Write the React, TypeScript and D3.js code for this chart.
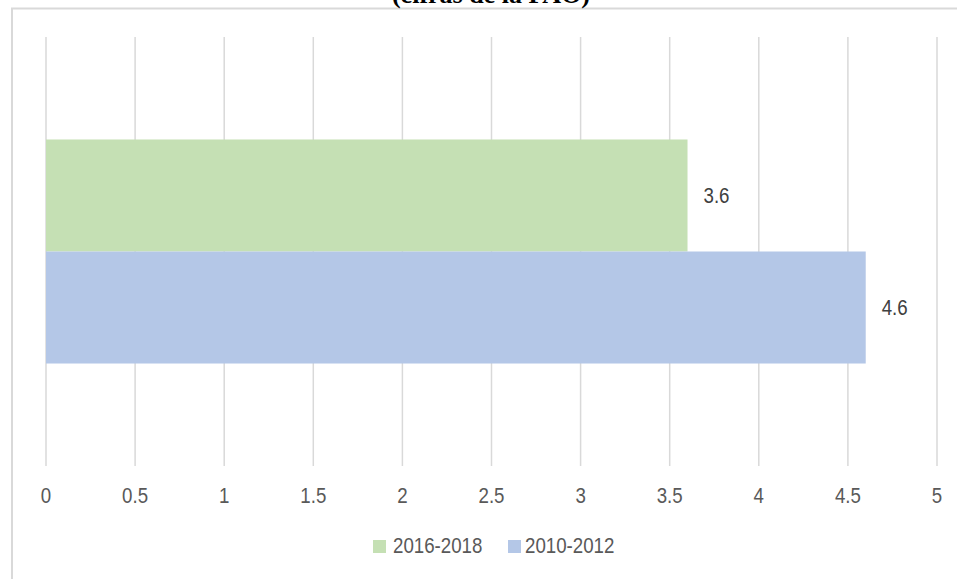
import React from "react";
import * as d3 from "d3";

const seriesNames = ["2016-2018", "2010-2012"];
const seriesValues = [3.6, 4.6];
const seriesColors = ["#c5e0b4", "#b4c7e7"];
const tickValues = [0, 0.5, 1, 1.5, 2, 2.5, 3, 3.5, 4, 4.5, 5];
const titleText = "(cifras de la FAO)";

const W = 957;
const H = 579;
const FONT = "'Liberation Sans', Arial, sans-serif";
const NARROW = 0.85;
const FS = 22;

function NText(props: {
  x: number;
  y: number;
  anchor?: string;
  fill: string;
  dy?: string;
  children: React.ReactNode;
}) {
  return (
    <text
      transform={`translate(${props.x},${props.y}) scale(${NARROW},1)`}
      textAnchor={props.anchor || "start"}
      dy={props.dy}
      fontFamily={FONT}
      fontSize={FS}
      fill={props.fill}
    >
      {props.children}
    </text>
  );
}

export default function App() {
  const plot = { left: 46, right: 937, top: 37, bottom: 466 };
  const x = d3.scaleLinear().domain([0, 5]).range([plot.left, plot.right]);
  const y = d3
    .scaleBand<string>()
    .domain(seriesNames)
    .range([plot.top, plot.bottom])
    .paddingInner(0)
    .paddingOuter(0.915);

  return (
    <div style={{ position: "absolute", left: 0, top: 0, width: W, height: H }}>
      <svg width={W} height={H} style={{ display: "block", background: "#fff" }}>
        <rect x={12} y={8.5} width={W + 20} height={H + 20} fill="#fff" stroke="#d9d9d9" strokeWidth={2} />
        <text
          x={491}
          y={2.5}
          textAnchor="middle"
          fontFamily="'Liberation Serif', 'Times New Roman', serif"
          fontWeight="bold"
          fontSize={26}
          fill="#000"
        >
          {titleText}
        </text>
        {tickValues.map((t) => (
          <line
            key={"g" + t}
            x1={x(t)}
            x2={x(t)}
            y1={plot.top}
            y2={plot.bottom}
            stroke="#d9d9d9"
            strokeWidth={1.5}
          />
        ))}
        {seriesNames.map((s, i) => (
          <rect
            key={"b" + s}
            x={x(0)}
            y={y(s)!}
            width={x(seriesValues[i]) - x(0)}
            height={y.bandwidth()}
            fill={seriesColors[i]}
          />
        ))}
        {seriesNames.map((s, i) => (
          <NText
            key={"l" + s}
            x={x(seriesValues[i]) + 16}
            y={y(s)! + y.bandwidth() / 2}
            dy="0.35em"
            fill="#404040"
          >
            {d3.format(".1f")(seriesValues[i])}
          </NText>
        ))}
        {tickValues.map((t) => (
          <NText key={"t" + t} x={x(t)} y={502.5} anchor="middle" fill="#595959">
            {String(t)}
          </NText>
        ))}
        <g>
          <rect x={373} y={540} width={13} height={13} fill={seriesColors[0]} />
          <NText x={393} y={553} fill="#595959">
            {seriesNames[0]}
          </NText>
          <rect x={508} y={540} width={13} height={13} fill={seriesColors[1]} />
          <NText x={525} y={553} fill="#595959">
            {seriesNames[1]}
          </NText>
        </g>
      </svg>
    </div>
  );
}
